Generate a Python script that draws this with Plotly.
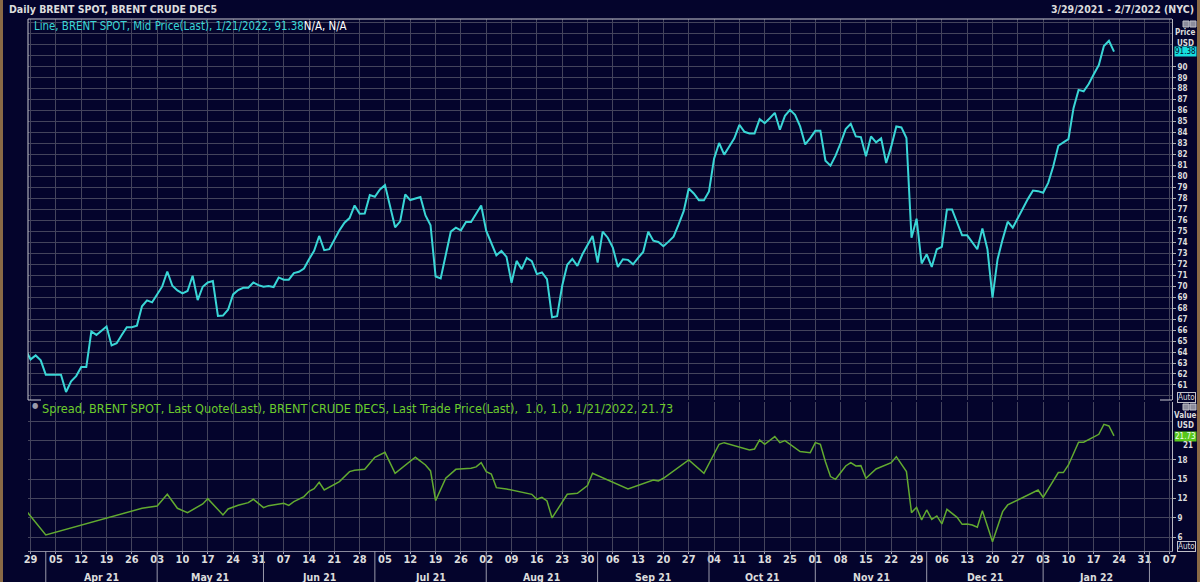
import pandas as pd
import plotly.graph_objects as go

# ---------------- data ----------------
price_start = "2021-03-26"  # business days from here
price_values = [
    64.20,
    63.33, 63.69, 63.24, 61.94, 61.94, 61.94, 61.94, 60.36, 61.33, 61.81,
    62.63, 62.63, 65.87, 65.56, 65.96, 66.32, 64.60, 64.81, 65.56, 66.26,
    66.26, 66.41, 68.17, 68.71, 68.53, 69.26, 69.98, 71.34, 70.04, 69.62,
    69.35, 69.56, 70.95, 68.74, 69.95, 70.34, 70.47, 67.29, 67.32, 67.86,
    69.25, 69.65, 69.86, 69.86, 70.34, 70.10, 69.95, 70.01, 69.92, 70.80,
    70.59, 70.59, 71.19, 71.31, 71.61, 72.46, 73.22, 74.58, 73.28, 73.37,
    74.28, 75.09, 75.79, 76.21, 77.36, 76.61, 76.63, 78.30, 78.15, 78.81,
    79.21, 77.30, 75.37, 75.91, 78.36, 77.85, 77.97, 78.12, 76.45, 75.55,
    70.89, 70.71, 72.85, 74.97, 75.33, 75.09, 75.85, 75.85, 76.61, 77.36,
    75.03, 73.97, 72.82, 73.22, 72.67, 70.31, 72.31, 71.55, 72.58, 72.28,
    71.10, 71.25, 70.65, 67.17, 67.26, 70.04, 71.95, 72.49, 71.86, 72.91,
    73.76, 74.58, 72.16, 74.97, 74.42, 73.52, 71.76, 72.46, 72.40, 72.00,
    72.58, 73.12, 74.97, 74.15, 74.03, 73.64, 74.06, 74.52, 75.63, 76.84,
    78.90, 78.45, 77.84, 77.84, 78.63, 81.62, 83.05, 81.99, 82.74, 83.47,
    84.71, 84.07, 83.92, 83.92, 85.22, 84.86, 85.31, 85.80, 84.26, 85.53,
    86.07, 85.62, 84.56, 82.92, 83.50, 84.16, 84.16, 81.44, 80.99, 81.90,
    83.05, 84.32, 84.80, 83.65, 83.59, 81.84, 83.65, 83.11, 83.47, 81.23,
    82.74, 84.56, 84.47, 83.50, 74.42, 76.15, 72.07, 72.91, 71.76, 73.37,
    73.58, 77.00, 77.00, 75.88, 74.64, 74.64, 74.03, 73.37, 75.27, 73.37,
    68.95, 72.46, 74.27, 75.88, 75.33, 76.24, 77.09, 77.96, 78.72, 78.66,
    78.51, 79.42, 80.93, 82.80, 83.11, 83.41, 86.22, 87.89, 87.76, 88.43,
    89.31, 90.15, 91.88, 92.36, 91.38,
]

spread_dates = [
    "2021-03-26", "2021-04-01", "2021-04-28", "2021-05-03", "2021-05-05", "2021-05-07",
    "2021-05-11", "2021-05-14", "2021-05-17", "2021-05-20", "2021-05-21", "2021-05-25",
    "2021-05-27", "2021-05-28", "2021-06-01", "2021-06-02", "2021-06-07", "2021-06-08",
    "2021-06-09", "2021-06-11", "2021-06-14", "2021-06-15", "2021-06-16", "2021-06-17",
    "2021-06-22", "2021-06-24", "2021-06-25", "2021-06-29", "2021-07-01", "2021-07-05",
    "2021-07-07", "2021-07-13", "2021-07-15", "2021-07-16", "2021-07-19", "2021-07-21",
    "2021-07-23", "2021-07-28", "2021-07-29", "2021-07-30", "2021-08-02", "2021-08-03",
    "2021-08-04", "2021-08-06", "2021-08-13", "2021-08-16", "2021-08-17", "2021-08-18",
    "2021-08-19", "2021-08-24", "2021-08-26", "2021-08-30", "2021-08-31", "2021-09-09",
    "2021-09-16", "2021-09-17", "2021-09-20", "2021-09-27", "2021-09-30", "2021-10-05",
    "2021-10-06", "2021-10-13", "2021-10-14", "2021-10-15", "2021-10-18", "2021-10-20",
    "2021-10-21", "2021-10-22", "2021-10-27", "2021-10-29", "2021-11-01", "2021-11-02",
    "2021-11-03", "2021-11-04", "2021-11-05", "2021-11-09", "2021-11-10", "2021-11-11",
    "2021-11-12", "2021-11-15", "2021-11-17", "2021-11-22", "2021-11-23", "2021-11-25",
    "2021-11-26", "2021-11-29", "2021-11-30", "2021-12-01", "2021-12-02", "2021-12-03",
    "2021-12-06", "2021-12-07", "2021-12-09", "2021-12-10", "2021-12-13", "2021-12-14",
    "2021-12-15", "2021-12-16", "2021-12-20", "2021-12-21", "2021-12-22", "2021-12-23",
    "2021-12-31", "2022-01-03", "2022-01-06", "2022-01-07", "2022-01-10", "2022-01-12",
    "2022-01-13", "2022-01-18", "2022-01-19", "2022-01-20", "2022-01-21",
]
spread_values = [
    10.24, 6.36, 10.50, 10.86, 12.67, 10.50,
    9.83, 11.17, 12.00, 9.46, 10.39, 10.96,
    11.38, 11.90, 10.60, 10.91, 11.28, 10.96,
    11.53, 12.31, 13.14, 13.55, 14.54, 13.35,
    14.64, 16.19, 16.40, 16.55, 18.42, 19.19,
    15.93, 18.42, 17.23, 16.30, 11.69, 15.16,
    16.55, 16.71, 16.92, 17.59, 16.19, 15.83,
    13.71, 13.50, 12.67, 11.90, 12.21, 11.64,
    9.00, 12.67, 12.83, 14.02, 15.93, 13.50,
    14.90, 14.74, 15.16, 18.00, 15.93, 20.44,
    20.69, 19.56, 19.71, 21.11, 20.44, 21.63,
    20.69, 21.01, 19.30, 19.14, 20.69, 20.44,
    17.74, 15.42, 15.00, 17.07, 17.59, 17.07,
    17.12, 15.16, 16.61, 17.59, 18.52, 16.19,
    9.83, 10.65, 8.69, 10.24, 8.79, 9.31,
    8.07, 10.34, 9.10, 8.01, 8.07, 7.91,
    7.55, 10.14, 5.32, 7.65, 9.98, 11.02,
    13.34, 12.21, 16.04, 16.04, 17.23, 20.75,
    20.75, 21.99, 23.54, 23.28, 21.73,
]

tick_start = "2021-03-29"   # weekly (Monday) ticks
tick_end = "2022-02-07"
month_starts = ["2021-04-01", "2021-05-03", "2021-06-01", "2021-07-01", "2021-08-02",
                "2021-09-01", "2021-10-01", "2021-11-01", "2021-12-01", "2022-01-03",
                "2022-02-01"]
month_labels = ["Apr 21", "May 21", "Jun 21", "Jul 21", "Aug 21", "Sep 21",
                "Oct 21", "Nov 21", "Dec 21", "Jan 22"]
price_ticks = list(range(61, 91))
spread_ticks = [6, 9, 12, 15, 18]

title_left = "Daily BRENT SPOT, BRENT CRUDE DEC5"
title_right = "3/29/2021 - 2/7/2022 (NYC)"
legend_price = "Line, BRENT SPOT, Mid Price(Last), 1/21/2022, 91.38"
legend_price_tail = "N/A, N/A"
legend_spread = ("Spread, BRENT SPOT, Last Quote(Last), BRENT CRUDE DEC5, "
                 "Last Trade Price(Last),  1.0, 1.0, 1/21/2022, 21.73")

# ---------------- styling ----------------
W, H = 1200, 582
L, R, T, B = 28, 1172, 19, 551
BG = "#04042c"
GRID = "#44445c"
CYAN = "#3ad6d6"
GREEN_LINE = "#62aa30"
GREEN_TXT = "#6ccb2c"
TXT = "#dcdcdc"
FONT = "Liberation Sans Narrow, DejaVu Sans Condensed, Liberation Sans, sans-serif"


def px(x):
    return (x - L) / (R - L)


def py(y):
    return (B - y) / (B - T)


price_dates = pd.bdate_range(price_start, periods=len(price_values))
mondays = pd.date_range(tick_start, tick_end, freq="7D")
day_text = [d.strftime("%d") for d in mondays]
rb = [dict(bounds=["sat", "mon"])]
xr = ["2021-03-26 11:40", "2022-02-07 10:54"]

fig = go.Figure()
fig.add_trace(go.Scatter(x=price_dates, y=price_values, xaxis="x", yaxis="y",
                         mode="lines", line=dict(color=CYAN, width=2),
                         hoverinfo="skip", showlegend=False))
fig.add_trace(go.Scatter(x=pd.to_datetime(spread_dates), y=spread_values, xaxis="x2", yaxis="y2",
                         mode="lines", line=dict(color=GREEN_LINE, width=1.5),
                         hoverinfo="skip", showlegend=False))

axis_common = dict(range=xr, rangebreaks=rb, tickvals=mondays, showgrid=True,
                   gridcolor=GRID, gridwidth=1, zeroline=False, domain=[0, 1])

fig.update_layout(
    width=W, height=H,
    margin=dict(l=L, r=W - R, t=T, b=H - B, pad=0),
    paper_bgcolor=BG, plot_bgcolor=BG,
    font=dict(family=FONT, color=TXT, size=11),
    showlegend=False,
    xaxis=dict(**axis_common, anchor="y", showticklabels=False, ticks="", showline=False),
    xaxis2=dict(**axis_common, anchor="y2", ticktext=day_text, ticks="outside", ticklen=2,
                tickcolor="#a0a0b0", showline=True, linecolor="#8a8a9c", linewidth=1,
                ticklabelstandoff=-4,
                tickfont=dict(family=FONT, size=11, color=TXT, weight="bold")),
    yaxis=dict(domain=[py(400), 1], anchor="x", side="right", range=[59.63, 94.35],
               tickvals=price_ticks, ticktext=[str(v) for v in price_ticks],
               ticks="outside", ticklen=3, tickcolor="#b0b0b0",
               tickfont=dict(family=FONT, size=8, color=TXT, weight="bold"),
               showgrid=True, gridcolor=GRID, zeroline=False,
               showline=True, linecolor="#b8b8c0", linewidth=1,
               minor=dict(tickvals=[60, 91, 92, 93, 94], showgrid=True, gridcolor=GRID, ticks="")),
    yaxis2=dict(domain=[0, py(401.5)], anchor="x2", side="right", range=[3.87, 27.08],
                tickvals=spread_ticks, ticktext=[str(v) for v in spread_ticks],
                ticks="outside", ticklen=3, tickcolor="#b0b0b0",
                tickfont=dict(family=FONT, size=8, color=TXT, weight="bold"),
                showgrid=True, gridcolor=GRID, zeroline=False,
                showline=True, linecolor="#b8b8c0", linewidth=1,
                minor=dict(tickvals=[21, 24, 27], showgrid=True, gridcolor=GRID, ticks="")),
)

shapes = []
# outer brown frame strips
shapes.append(dict(type="rect", xref="paper", yref="paper", x0=px(0), x1=px(3), y0=py(H), y1=py(0),
                   fillcolor="#8a6a46", line=dict(width=0), layer="above"))
shapes.append(dict(type="rect", xref="paper", yref="paper", x0=px(1197), x1=px(W), y0=py(H), y1=py(0),
                   fillcolor="#8a6a46", line=dict(width=0), layer="above"))
# top panel frame (top, left) and corners
for (x0, y0, x1, y1) in [(L, T, R, T), (L, T, L, 400), (L, 400, 41, 400), (1160, 400, R, 400)]:
    shapes.append(dict(type="line", xref="paper", yref="paper", x0=px(x0), x1=px(x1),
                       y0=py(y0), y1=py(y1), line=dict(color="#c8c8d0", width=1), layer="above"))
# month separators in the date axis area
for m in month_starts:
    shapes.append(dict(type="line", xref="x2", yref="paper", x0=m, x1=m, y0=py(B), y1=py(H),
                       line=dict(color="#9a9aaa", width=1), layer="above"))
# little window icons
for yy in (21, 404):
    for xx in (1183, 1190):
        shapes.append(dict(type="rect", xref="paper", yref="paper", x0=px(xx), x1=px(xx + 6),
                           y0=py(yy + 6), y1=py(yy), fillcolor="#8c8c9c",
                           line=dict(color="#c0c0c8", width=1), layer="above"))
fig.update_layout(shapes=shapes)

ann = []


def text(x, y, s, color=TXT, size=12, anchor="left", bold=False, **kw):
    ann.append(dict(xref="paper", yref="paper", x=px(x), y=py(y), text=s, showarrow=False,
                    xanchor=anchor, yanchor="middle",
                    font=dict(family=FONT, size=size, color=color, weight="bold" if bold else "normal"),
                    **kw))


text(7, 9, title_left, bold=True, size=10.5)
text(1196, 9, title_right, anchor="right", bold=True, size=10.5)
text(32, 26, f"<span style='color:{CYAN}'>{legend_price}</span>"
             f"<span style='color:#ffffff'>{legend_price_tail}</span>", size=11.4)
ann.append(dict(xref="paper", yref="paper", x=px(35), y=py(405), text="●", showarrow=False,
                font=dict(size=8, color="#9a9aaa"), xanchor="center", yanchor="middle"))
text(40, 409, legend_spread, color=GREEN_TXT, size=12.6)

# right-hand axis headers and last-value boxes
text(1185, 33, "Price", size=8, anchor="center", bold=True)
text(1185, 43, "USD", size=8, anchor="center", bold=True)
text(1185, 51, "91.38", size=8, anchor="center", color="#04042c", bgcolor="#16dede", borderpad=0)
text(1185, 415, "Value", size=8, anchor="center", bold=True)
text(1185, 425, "USD", size=8, anchor="center", bold=True)
text(1185, 436, "21.73", size=8, anchor="center", color="#f0fff0", bgcolor="#58c81c", borderpad=0)
text(1181, 446, "21", size=8, bold=True)
text(1186, 397, "Auto", size=8, anchor="center", bordercolor="#c0c0c8", borderwidth=1, borderpad=0)
text(1186, 546, "Auto", size=8, anchor="center", bordercolor="#c0c0c8", borderwidth=1, borderpad=0)

# month labels centred between the separators
ms = pd.to_datetime(month_starts)
for i, lab in enumerate(month_labels):
    a, b = ms[i], ms[i + 1]
    nb = len(pd.bdate_range(a, b)) - 1
    mid = pd.bdate_range(a, periods=nb // 2 + 1)[-1]
    if nb % 2:
        mid = mid + pd.Timedelta(hours=12)
    ann.append(dict(xref="x2", yref="paper", x=mid, y=py(576.5), text=lab, showarrow=False,
                    xanchor="center", yanchor="middle",
                    font=dict(family=FONT, size=10.5, color=TXT, weight="bold")))

fig.update_layout(annotations=ann)

fig.write_html("out.html", include_plotlyjs=True, config={"displayModeBar": False})
